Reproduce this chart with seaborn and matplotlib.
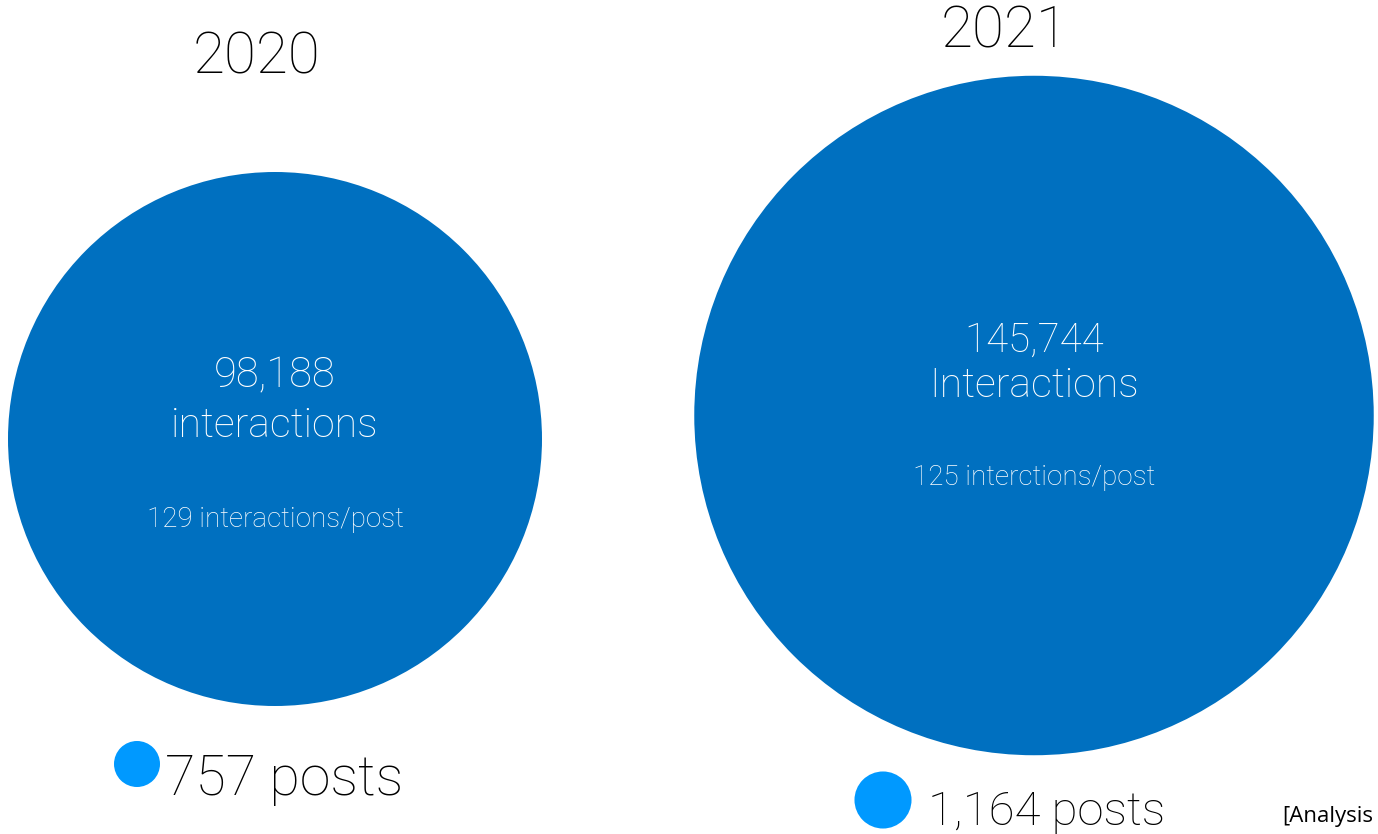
import matplotlib.pyplot as plt
from matplotlib.patches import Circle
import seaborn as sns

# data
years = ['2020', '2021']
interactions = [98188, 145744]
posts = [757, 1164]
per_post = [129, 125]
inter_words = ['interactions', 'Interactions']
per_post_words = ['interactions/post', 'interctions/post']

sns.set_theme(style='white')
plt.rcParams['font.family'] = ['Roboto', 'DejaVu Sans']

big_blue = '#0070c0'
small_blue = '#0099ff'

# layout (pixels)
big_xy = [(275, 439), (1034, 415.5)]
small_xy = [(137, 764), (883, 800)]
year_xy = [(257, 73), (1005, 47)]
num_y = [387, 352]
word_y = [437, 397]
pp_y = [527, 485]
posts_xy = [(165, 795), (928, 825)]
num_size = [30, 29]
posts_size = [40, 34]

fig = plt.figure(figsize=(13.78, 8.34), dpi=100)
ax = fig.add_axes([0, 0, 1, 1])
ax.set_xlim(0, 1378)
ax.set_ylim(834, 0)
ax.set_aspect('equal')
ax.axis('off')

for i, yr in enumerate(years):
    # bubble size scales
    r_big = 267 * (interactions[i] / interactions[0]) ** 0.61
    r_small = 23 * (posts[i] / posts[0]) ** 0.5
    ax.add_patch(Circle(big_xy[i], r_big, color=big_blue, lw=0))
    ax.add_patch(Circle(small_xy[i], r_small, color=small_blue, lw=0))

    cx = big_xy[i][0]
    ax.text(year_xy[i][0], year_xy[i][1], yr, ha='center', va='baseline',
            fontsize=42, fontweight='light', color='black')
    ax.text(cx, num_y[i], f'{interactions[i]:,}', ha='center', va='baseline',
            fontsize=num_size[i], fontweight='light', color='white')
    ax.text(cx, word_y[i], inter_words[i], ha='center', va='baseline',
            fontsize=29.5, fontweight='light', color='white')
    ax.text(cx, pp_y[i], f'{per_post[i]} {per_post_words[i]}', ha='center', va='baseline',
            fontsize=20, fontweight='light', color='white')
    ax.text(posts_xy[i][0], posts_xy[i][1], f'{posts[i]:,} posts', ha='left', va='baseline',
            fontsize=posts_size[i], fontweight='light', color='black')

ax.text(1282, 822, '[Analysis', ha='left', va='baseline', fontsize=16,
        family=['Open Sans', 'DejaVu Sans'], color='black')

fig.savefig('out.png', dpi=100)
